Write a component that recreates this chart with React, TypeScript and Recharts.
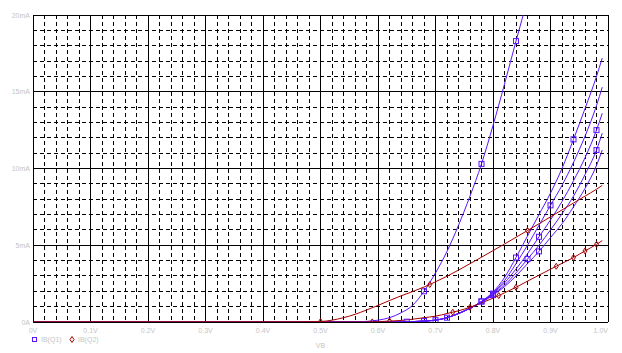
import React from 'react';
import { LineChart, Line, XAxis, YAxis, CartesianGrid } from 'recharts';

// ---- axis ticks ----
const xTicks = [0, 0.1, 0.2, 0.3, 0.4, 0.5, 0.6, 0.7, 0.8, 0.9, 1.0];
const xTickLabels = ['0V', '0.1V', '0.2V', '0.3V', '0.4V', '0.5V', '0.6V', '0.7V', '0.8V', '0.9V', '1.0V'];
const yTicks = [0, 5, 10, 15, 20];
const yTickLabels = ['0A', '5mA', '10mA', '15mA', '20mA'];
const xMinorTicks = [0.02, 0.04, 0.06, 0.08, 0.12, 0.14, 0.16, 0.18, 0.22, 0.24, 0.26, 0.28, 0.32, 0.34, 0.36, 0.38, 0.42, 0.44, 0.46, 0.48, 0.52, 0.54, 0.56, 0.58, 0.62, 0.64, 0.66, 0.68, 0.72, 0.74, 0.76, 0.78, 0.82, 0.84, 0.86, 0.88, 0.92, 0.94, 0.96, 0.98];
const yMinorTicks = [1, 2, 3, 4, 6, 7, 8, 9, 11, 12, 13, 14, 16, 17, 18, 19];

// ---- IB(Q1): steep curve ----
const steepV = [0, 0.5, 0.56, 0.58, 0.6, 0.62, 0.64, 0.66, 0.68, 0.7, 0.72, 0.74, 0.76, 0.78, 0.8, 0.82, 0.84, 0.86];
const steepI = [0, 0, 0.01, 0.04, 0.12, 0.28, 0.6, 1.08, 2.0, 3.2, 4.6, 6.3, 8.2, 10.3, 12.8, 15.5, 18.3, 21.0];
const steepMarks = [0.68, 0.78, 0.84];

// ---- IB(Q1): family of curves ----
const famV = [0, 0.55, 0.6, 0.62, 0.65, 0.68, 0.7, 0.72, 0.74, 0.76, 0.78, 0.8, 0.82, 0.84, 0.86, 0.88, 0.9, 0.92, 0.94, 0.96, 0.98, 0.99];
const fam1I = [0, 0, 0, 0.01, 0.02, 0.06, 0.12, 0.28, 0.55, 0.9, 1.35, 1.95, 2.9, 4.2, 5.6, 7.0, 8.4, 10.0, 11.9, 13.9, 16.0, 17.2];
const fam2I = [0, 0, 0, 0.01, 0.02, 0.06, 0.12, 0.28, 0.55, 0.9, 1.33, 1.9, 2.7, 3.8, 5.0, 6.3, 7.6, 8.9, 10.4, 12.1, 14.1, 15.3];
const fam3I = [0, 0, 0, 0.01, 0.02, 0.06, 0.12, 0.28, 0.55, 0.9, 1.31, 1.85, 2.55, 3.45, 4.45, 5.55, 6.65, 7.85, 9.2, 10.7, 12.5, 13.6];
const fam4I = [0, 0, 0, 0.01, 0.02, 0.06, 0.12, 0.28, 0.55, 0.9, 1.29, 1.8, 2.4, 3.2, 4.1, 5.0, 6.0, 7.05, 8.2, 9.6, 11.2, 12.3];
const fam5I = [0, 0, 0, 0.01, 0.02, 0.06, 0.12, 0.28, 0.55, 0.9, 1.27, 1.75, 2.3, 3.0, 3.8, 4.6, 5.5, 6.4, 7.5, 8.7, 10.2, 11.2];
const fam1Marks = [0.65, 0.78, 0.84, 0.94];
const fam2Marks = [0.68, 0.78, 0.9];
const fam3Marks = [0.68, 0.8, 0.88, 0.98];
const fam4Marks = [0.7, 0.8, 0.86, 0.98];
const fam5Marks = [0.72, 0.8, 0.88];

// ---- IB(Q2) ----
const redUpV = [0, 0.45, 0.5, 0.52, 0.54, 0.56, 0.58, 0.6, 0.62, 0.64, 0.66, 0.68, 0.69, 0.7, 0.72, 0.74, 0.76, 0.78, 0.8, 0.82, 0.84, 0.86, 0.88, 0.9, 0.92, 0.94, 0.96, 0.98, 0.99];
const redUpI = [0, 0, 0.03, 0.12, 0.28, 0.5, 0.78, 1.08, 1.4, 1.7, 1.98, 2.28, 2.44, 2.62, 2.98, 3.38, 3.8, 4.22, 4.65, 5.08, 5.52, 5.96, 6.4, 6.85, 7.3, 7.75, 8.2, 8.65, 8.9];
const redUpMarks = [0.5, 0.69, 0.86];

const redLoV = [0, 0.55, 0.58, 0.59, 0.6, 0.62, 0.64, 0.66, 0.68, 0.7, 0.72, 0.73, 0.74, 0.76, 0.78, 0.8, 0.81, 0.82, 0.84, 0.86, 0.88, 0.9, 0.91, 0.92, 0.94, 0.96, 0.98, 0.99];
const redLoI = [0, 0, 0, 0.01, 0.02, 0.06, 0.1, 0.18, 0.28, 0.38, 0.55, 0.64, 0.73, 0.96, 1.24, 1.55, 1.72, 1.9, 2.26, 2.66, 3.05, 3.44, 3.63, 3.82, 4.2, 4.63, 5.06, 5.3];
const redLoMarks = [0.59, 0.62, 0.73, 0.76, 0.81, 0.84, 0.91, 0.94, 0.96, 0.98];

const BLUE = '#5b14ff';
const RED = '#a80000';
const LABEL = '#c4c4c4';
const FONT = 'Liberation Sans, Arial, sans-serif';

const toData = (v: number[], i: number[]) => v.map((x, k) => ({ v: x, i: i[k] }));

const makeDot = (marks: number[], kind: 'sq' | 'di', color: string) => (props: any) => {
  const { cx, cy, payload, index } = props;
  const k = `d-${kind}-${index}`;
  if (cx == null || cy == null || !marks.includes(payload.v) || cy < 15) return <g key={k} />;
  if (kind === 'sq') {
    return <rect key={k} x={cx - 2.5} y={cy - 2.5} width={5} height={5} fill="none" stroke={color} strokeWidth={1} />;
  }
  return <path key={k} d={`M${cx},${cy - 3}L${cx + 2},${cy}L${cx},${cy + 3}L${cx - 2},${cy}Z`} fill="none" stroke={color} strokeWidth={1} />;
};

const XTick = (props: any) => {
  const { x, y, payload } = props;
  const idx = xTicks.indexOf(payload.value);
  const label = idx >= 0 ? xTickLabels[idx] : '';
  const anchor = payload.value === 1 ? 'end' : 'middle';
  return (
    <text x={x} y={y} dy={7} textAnchor={anchor} fill={LABEL} fontSize={7} fontFamily={FONT}>
      {label}
    </text>
  );
};

const YTick = (props: any) => {
  const { x, y, payload } = props;
  const idx = yTicks.indexOf(payload.value);
  const label = idx >= 0 ? yTickLabels[idx] : '';
  return (
    <text x={x} y={y} dy={2.5} textAnchor="end" fill={LABEL} fontSize={7} fontFamily={FONT}>
      {label}
    </text>
  );
};

const series = [
  { name: 'steep', v: steepV, i: steepI, marks: steepMarks, kind: 'sq' as const, color: BLUE },
  { name: 'f1', v: famV, i: fam1I, marks: fam1Marks, kind: 'sq' as const, color: BLUE },
  { name: 'f2', v: famV, i: fam2I, marks: fam2Marks, kind: 'sq' as const, color: BLUE },
  { name: 'f3', v: famV, i: fam3I, marks: fam3Marks, kind: 'sq' as const, color: BLUE },
  { name: 'f4', v: famV, i: fam4I, marks: fam4Marks, kind: 'sq' as const, color: BLUE },
  { name: 'f5', v: famV, i: fam5I, marks: fam5Marks, kind: 'sq' as const, color: BLUE },
  { name: 'rUp', v: redUpV, i: redUpI, marks: redUpMarks, kind: 'di' as const, color: RED },
  { name: 'rLo', v: redLoV, i: redLoI, marks: redLoMarks, kind: 'di' as const, color: RED },
];

export default function App() {
  return (
    <div style={{ position: 'absolute', left: 0, top: 0, width: 622, height: 353, background: '#fff' }}>
      <LineChart width={622} height={353} margin={{ top: 15, right: 14, left: 0, bottom: 0 }}>
        <CartesianGrid
          verticalValues={xMinorTicks}
          horizontalValues={yMinorTicks}
          stroke="#000"
          strokeDasharray="4 3"
          strokeWidth={1}
          shapeRendering="crispEdges"
        />
        <CartesianGrid stroke="#000" strokeWidth={1} shapeRendering="crispEdges" />
        <XAxis
          type="number"
          dataKey="v"
          domain={[0, 1]}
          ticks={xTicks}
          interval={0}
          allowDataOverflow
          height={31}
          tickLine={false}
          tickSize={0}
          tickMargin={4}
          axisLine={{ stroke: '#000', shapeRendering: 'crispEdges' }}
          tick={<XTick />}
          label={{ value: 'VB', position: 'insideBottom', offset: 5, fill: LABEL, fontSize: 7, fontFamily: FONT }}
        />
        <YAxis
          type="number"
          domain={[0, 20]}
          ticks={yTicks}
          interval={0}
          allowDataOverflow
          width={33}
          tickLine={false}
          tickSize={0}
          tickMargin={3}
          axisLine={{ stroke: '#000', shapeRendering: 'crispEdges' }}
          tick={<YTick />}
        />
        {series.map((s) => (
          <Line
            key={s.name}
            data={toData(s.v, s.i)}
            dataKey="i"
            type="monotone"
            stroke={s.color}
            strokeWidth={1}
            dot={makeDot(s.marks, s.kind, s.color)}
            activeDot={false}
            isAnimationActive={false}
          />
        ))}
      </LineChart>
      <svg width={622} height={353} style={{ position: 'absolute', left: 0, top: 0, pointerEvents: 'none' }}>
        <rect x={32.5} y={337.5} width={4} height={4} fill="none" stroke={BLUE} strokeWidth={1} />
        <text x={41} y={342} fill={LABEL} fontSize={7} fontFamily={FONT}>IB(Q1)</text>
        <path d="M72,336.5L74,339.5L72,342.5L70,339.5Z" fill="none" stroke={RED} strokeWidth={1} />
        <text x={78} y={342} fill={LABEL} fontSize={7} fontFamily={FONT}>IB(Q2)</text>
      </svg>
    </div>
  );
}
